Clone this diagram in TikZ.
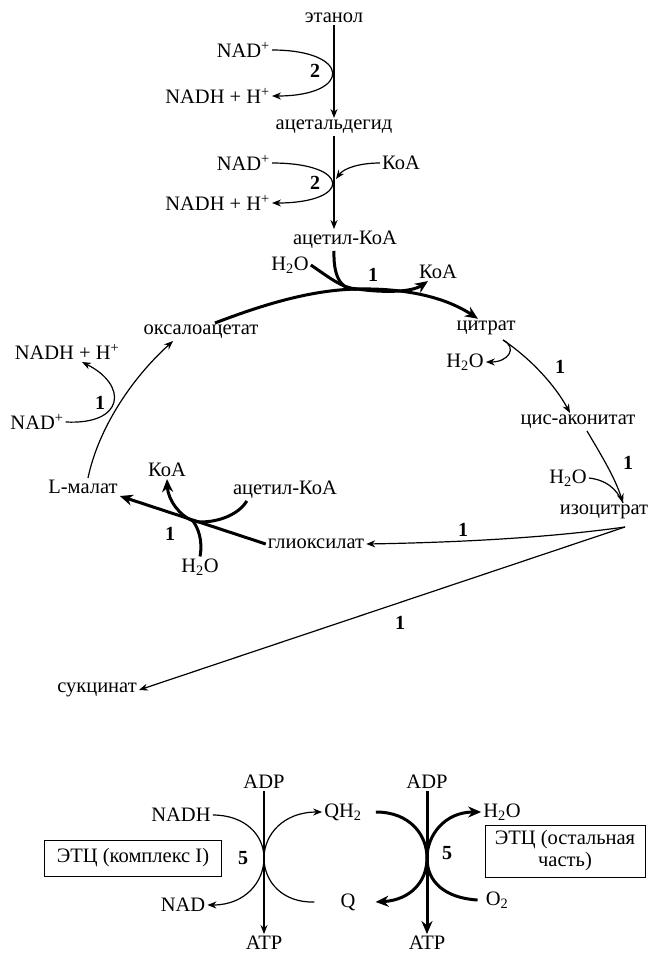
\documentclass[tikz,border=0pt]{standalone}
\usepackage{fontspec}
\setmainfont{Liberation Serif}
\usetikzlibrary{arrows.meta}

\begin{document}
\begin{tikzpicture}[x=1pt,y=-1pt,font=\fontsize{20.5}{22}\selectfont,
    substance/.style ={inner sep=2pt},
    stepnum/.style ={inner sep=1pt, font=\fontsize{20}{22}\selectfont\bfseries},
    reaction/.style ={line width=1.2pt, -{Stealth[length=9pt,width=7pt]}},
    sidein/.style ={line width=1.2pt},
    mainreaction/.style ={line width=3pt, -{Stealth[length=13pt,width=11pt]}},
    mainin/.style ={line width=3pt},
    etcbox/.style ={draw, line width=1pt, inner sep=4pt, align=center}]
   \useasboundingbox (0,0) rectangle (652,954);
   \node[substance] (etanol) at (334,18) {этанол};
   \node[substance] (acetald) at (334,127) {ацетальдегид};
   \node[substance] (acetcoa) at (345,240) {ацетил-КоА};
   \node[substance,anchor=east] (nad1) at (272,50) {NAD\textsuperscript{+}};
   \node[substance,anchor=east] (nadh1) at (272,96) {NADH + H\textsuperscript{+}};
   \node[substance,anchor=east] (nad2) at (272,163) {NAD\textsuperscript{+}};
   \node[substance,anchor=east] (nadh2) at (272,203) {NADH + H\textsuperscript{+}};
   \node[substance] (koa1) at (401,163) {КоА};
   \node[stepnum] (s1) at (315,71) {2};
   \node[stepnum] (s2) at (315,183) {2};
   \draw[reaction] (etanol) -- (acetald);
   \draw[reaction] (acetald.south) -- (acetald.south |- acetcoa.north);
   \draw[reaction] (nad1.east) .. controls (352,50) and (352,96) .. (nadh1.east);
   \draw[reaction] (nad2.east) .. controls (352,163) and (352,203) .. (nadh2.east);
   \coordinate (jkoa) at (336,179);
   \draw[reaction] (koa1.west) .. controls (360,163) and (344,168) .. (jkoa);
   \node[substance] (oxalo) at (201,332) {оксалоацетат};
   \node[substance] (citrat) at (486,328) {цитрат};
   \node[substance] (h2oa) at (290,265) {H\textsubscript{2}O};
   \node[substance] (koa2) at (438,272) {КоА};
   \node[stepnum] (s3) at (373,275) {1};
   \coordinate (jcit) at (357,289);
   \draw[mainin] ([xshift=14pt]oxalo.north) .. controls (262,305) and (310,290) .. (jcit);
   \draw[mainreaction] (jcit) .. controls (405,288) and (445,297) .. ([xshift=-8pt]citrat.north);
   \draw[mainreaction] (acetald.south |- acetcoa.south) .. controls (333,282) and (345,291) .. (jcit) .. controls (385,293) and (412,292) .. ([xshift=-10pt]koa2.south);
   \draw[mainin] (h2oa.east) .. controls (330,278) and (342,288) .. (jcit);
   \node[substance] (h2ob) at (465,362) {H\textsubscript{2}O};
   \node[substance] (cisacon) at (578,422) {цис-аконитат};
   \node[substance] (h2oc) at (568,478) {H\textsubscript{2}O};
   \node[substance] (isocit) at (604,512) {изоцитрат};
   \node[stepnum] (s4) at (560,367) {1};
   \node[stepnum] (s5) at (628,463) {1};
   \coordinate (jc1) at (503,340);
   \draw[reaction] (jc1) .. controls (518,348) and (508,362) .. (h2ob.east);
   \draw[reaction] (jc1) .. controls (530,358) and (555,385) .. ([xshift=-8pt]cisacon.north);
   \draw[reaction] ([xshift=9pt]cisacon.south) .. controls (603,458) and (615,478) .. ([xshift=19pt]isocit.north);
   \draw[sidein] (h2oc.east) .. controls (606,480) and (616,488) .. ([xshift=19pt]isocit.north);
   \node[substance] (glyox) at (316,544) {глиоксилат};
   \node[substance] (succ) at (97,690) {сукцинат};
   \node[stepnum] (s6) at (463,530) {1};
   \node[stepnum] (s7) at (400,623) {1};
   \coordinate (jiso) at (625,527);
   \draw[reaction] (jiso) .. controls (560,536) and (480,542) .. (glyox.east);
   \draw[reaction] (jiso) -- (succ.east);
   \node[substance] (malat) at (83,487) {L-малат};
   \node[substance] (koa3) at (167,470) {КоА};
   \node[substance] (acetcoa2) at (285,490) {ацетил-КоА};
   \node[substance] (h2od) at (200,567) {H\textsubscript{2}O};
   \node[stepnum] (s8) at (170,534) {1};
   \coordinate (jgly) at (193,521);
   \draw[mainreaction] (glyox.west) -- (malat.south east);
   \draw[mainreaction] ([xshift=16pt]acetcoa2.south west) .. controls (235,520) and (205,524) .. (jgly) .. controls (180,516) and (168,500) .. (koa3.south);
   \draw[mainin] (h2od.north) .. controls (203,540) and (198,528) .. (jgly);
   \node[substance] (nadh3) at (67,352) {NADH + H\textsuperscript{+}};
   \node[substance] (nad3) at (37,422) {NAD\textsuperscript{+}};
   \node[stepnum] (s9) at (100,403) {1};
   \draw[reaction] ([xshift=5pt]malat.north) .. controls (98,430) and (130,380) .. ([xshift=-28pt]oxalo.south);
   \draw[reaction] (nad3.east) .. controls (125,425) and (128,385) .. ([xshift=15pt]nadh3.south);
   \node[substance] (adp1) at (264,782) {ADP};
   \node[substance] (atp1) at (264,943) {ATP};
   \node[substance] (nadh4) at (181,815) {NADH};
   \node[substance] (nad4) at (183,905) {NAD};
   \node[substance] (qh2) at (343,812) {QH\textsubscript{2}};
   \node[substance] (q) at (348,902) {Q};
   \node[stepnum] (s10) at (243,858) {5};
   \node[etcbox, minimum width=177pt, minimum height=36pt] (etc1) at (133,858) {ЭТЦ (комплекс I)};
   \coordinate (jetc1) at (264,858);
   \draw[reaction] (adp1) -- (atp1);
   \draw[reaction] (nadh4.east) .. controls (245,815) and (264,835) .. (jetc1) .. controls (264,882) and (245,905) .. (nad4.east);
   \draw[reaction] ([xshift=-24pt]q.west) .. controls (283,903) and (264,882) .. (jetc1) .. controls (264,835) and (283,812) .. (qh2.west);
   \node[substance] (adp2) at (427,782) {ADP};
   \node[substance] (atp2) at (427,943) {ATP};
   \node[substance] (h2oe) at (502,812) {H\textsubscript{2}O};
   \node[substance] (o2) at (497,900) {O\textsubscript{2}};
   \node[stepnum] (s11) at (447,853) {5};
   \node[etcbox, minimum width=160pt, minimum height=52pt] (etc2) at (565,851) {ЭТЦ (остальная\\часть)};
   \coordinate (jetc2) at (427,858);
   \draw[mainreaction] (adp2) -- (atp2);
   \draw[mainreaction] ([xshift=12pt]qh2.east) .. controls (410,812) and (427,835) .. (jetc2) .. controls (427,882) and (410,900) .. ([xshift=18pt]q.east);
   \draw[mainreaction] ([xshift=-6pt]o2.west) .. controls (445,898) and (427,882) .. (jetc2) .. controls (427,835) and (445,812) .. (h2oe.west);
 \end{tikzpicture}
\end{document}
